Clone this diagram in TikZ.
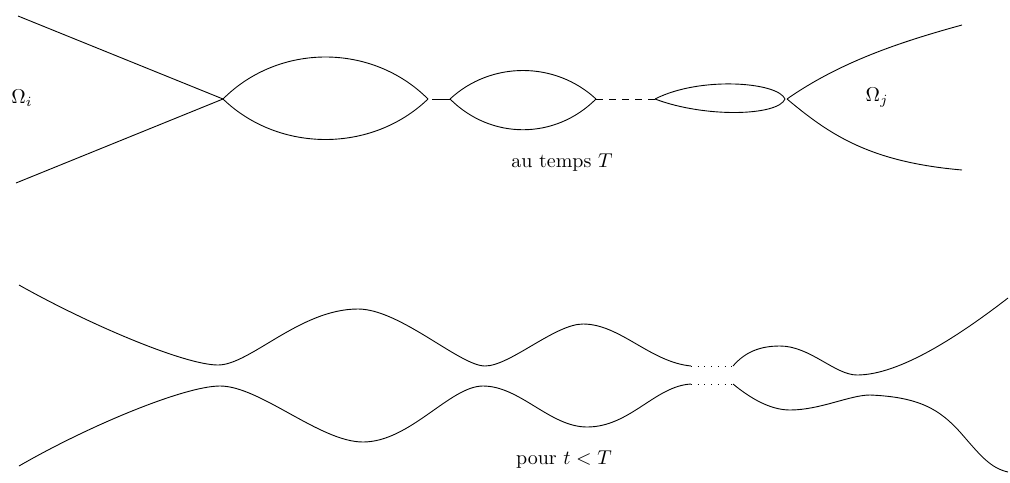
\documentclass[tikz,border=0pt]{standalone}
\begin{document}
\begin{tikzpicture}[x=0.5pt,y=-0.5pt,
  curve/.style={line width=0.45pt, black},
  dashline/.style={curve, dash pattern=on 3.5pt off 3pt},
  dotline/.style={curve, dash pattern=on 0.45pt off 2.9pt},
  lbl/.style={inner sep=0pt, font=\normalsize}]
\useasboundingbox (0,0) rectangle (1010,482);
% ---------- top: au temps T ----------
\coordinate (TL) at (18,16);
\coordinate (BL) at (16,183);
\coordinate (V1) at (223,99);
\coordinate (V2) at (428,99);
\coordinate (S1) at (432,99);
\coordinate (V3) at (450,99);
\coordinate (V4) at (596,99);
\coordinate (V5) at (655,99);
\coordinate (V6) at (785,99);
\coordinate (V7) at (787,99);
\coordinate (TR) at (962,25);
\coordinate (BR) at (962,170);
\draw[curve] (TL) -- (V1);
\draw[curve] (BL) -- (V1);
\draw[curve] (V1) .. controls (279,43) and (372,43) .. (V2);
\draw[curve] (V1) .. controls (279,153) and (372,153) .. (V2);
\draw[curve] (S1) -- (V3);
\draw[curve] (V3) .. controls (491,61) and (555,61) .. (V4);
\draw[curve] (V3) .. controls (491,140) and (555,140) .. (V4);
\draw[dashline] (V4) -- (V5);
\draw[curve] (V5) .. controls (700,76) and (778,82) .. (V6);
\draw[curve] (V5) .. controls (705,118) and (778,116) .. (V6);
\draw[curve] (V7) .. controls (840,62) and (900,42) .. (TR);
\draw[curve] (V7) .. controls (830,135) and (870,162) .. (BR);
\node[lbl] (omi) at (22,98) {$\Omega_i$};
\node[lbl] (omj) at (877,98) {$\Omega_j$};
\node[lbl] (tT) at (562,163) {au temps $T$};
% ---------- bottom: pour t < T ----------
\coordinate (U0) at (19,285);
\coordinate (U1) at (691,366);
\coordinate (U2) at (733,366);
\coordinate (U3) at (1008,298);
\coordinate (L0) at (19,466);
\coordinate (L1) at (691,384);
\coordinate (L2) at (733,384);
\coordinate (L3) at (1008,472);
\draw[curve] (U0) .. controls (90,325) and (185,365) .. (218,365)
  .. controls (250,365) and (300,309) .. (358,309)
  .. controls (400,309) and (460,366) .. (485,366)
  .. controls (510,366) and (555,324) .. (583,324)
  .. controls (620,324) and (650,362) .. (U1);
\draw[dotline] (U1) -- (U2);
\draw[curve] (U2) .. controls (745,352) and (760,346) .. (780,346)
  .. controls (810,346) and (835,375) .. (857,375)
  .. controls (900,375) and (960,335) .. (U3);
\draw[curve] (L0) .. controls (90,425) and (185,386) .. (220,386)
  .. controls (260,386) and (320,442) .. (363,442)
  .. controls (410,442) and (450,386) .. (483,386)
  .. controls (520,386) and (550,427) .. (587,427)
  .. controls (630,427) and (655,386) .. (L1);
\draw[dotline] (L1) -- (L2);
\draw[curve] (L2) .. controls (750,398) and (770,410) .. (790,410)
  .. controls (820,410) and (850,395) .. (870,395)
  .. controls (920,397) and (940,410) .. (960,432)
  .. controls (980,455) and (990,468) .. (L3);
\node[lbl] (pt) at (564,460) {pour $t < T$};
\end{tikzpicture}
\end{document}
